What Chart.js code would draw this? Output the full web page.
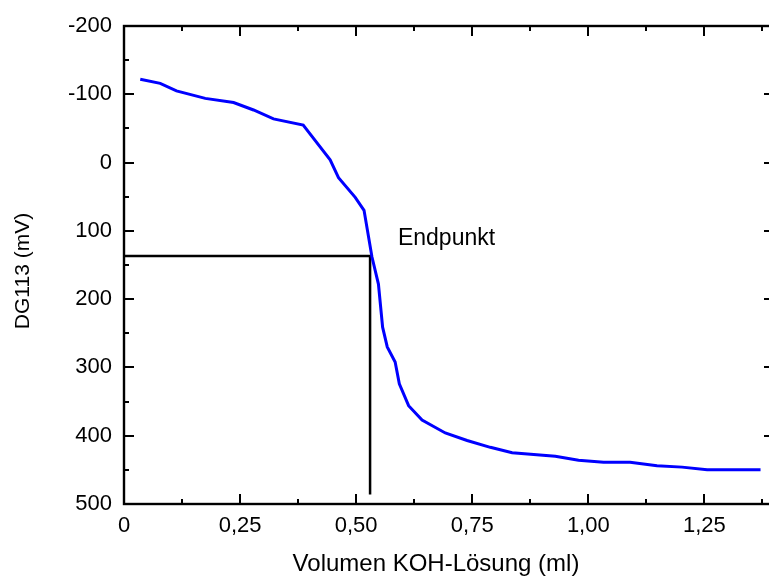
<!DOCTYPE html>
<html>
<head>
<meta charset="utf-8">
<script src="https://cdn.jsdelivr.net/npm/chart.js@4/dist/chart.umd.min.js"></script>
<style>
  html, body { margin: 0; padding: 0; background: #fff; overflow: hidden; }
  #wrap { width: 776px; height: 576px; position: relative; }
</style>
</head>
<body>
<div id="wrap"><canvas id="c" width="776" height="576"></canvas></div>
<script>
// Titration curve
const volumes = [0.035, 0.078, 0.113, 0.175, 0.236, 0.279, 0.322, 0.386, 0.444, 0.462, 0.498, 0.517, 0.534, 0.548, 0.557, 0.567, 0.584, 0.593, 0.613, 0.642, 0.692, 0.739, 0.789, 0.836, 0.929, 0.979, 1.033, 1.090, 1.148, 1.202, 1.256, 1.371];
const potentials = [-122, -116, -105, -94, -88, -77, -64, -55, -4, 22, 51, 70, 138, 178, 241, 270, 292, 324, 356, 377, 396, 407, 417, 425, 430, 436, 439, 439, 444, 446, 450, 450];

// End point marker
const endpointX = 0.530;
const endpointY = 137;
const endpointLineEndX = 0.536;
const endpointLineBottomY = 486;
const endpointLabel = 'Endpunkt';
const endpointLabelX = 0.59;
const endpointLabelY = 120;

// Axes
const xMajorTicks = [0, 0.25, 0.5, 0.75, 1.0, 1.25];
const xMinorTicks = [0.125, 0.375, 0.625, 0.875, 1.125, 1.375];
const yMajorTicks = [-200, -100, 0, 100, 200, 300, 400, 500];
const yMinorTicks = [-150, -50, 50, 150, 250, 350, 450];
const xTitle = 'Volumen KOH-Lösung (ml)';
const yTitle = 'DG113 (mV)';

const FONT = "'Liberation Sans', Arial, sans-serif";

function fmtX(v) {
  if (Math.abs(v) < 1e-9) return '0';
  return v.toFixed(2).replace('.', ',');
}

const framePlugin = {
  id: 'frameTicks',
  afterDatasetsDraw(chart) {
    const ctx = chart.ctx;
    const a = chart.chartArea;
    const xs = chart.scales.x, ys = chart.scales.y;
    ctx.save();
    ctx.strokeStyle = '#000';
    ctx.lineWidth = 2.4;
    ctx.strokeRect(a.left, a.top, a.right - a.left, a.bottom - a.top);
    ctx.beginPath();
    ctx.lineWidth = 2;
    const tick = (vals, len, isX) => {
      vals.forEach(v => {
        if (isX) {
          const p = Math.round(xs.getPixelForValue(v));
          ctx.moveTo(p, a.bottom); ctx.lineTo(p, a.bottom - len);
          ctx.moveTo(p, a.top); ctx.lineTo(p, a.top + len);
        } else {
          const p = Math.round(ys.getPixelForValue(v));
          ctx.moveTo(a.left, p); ctx.lineTo(a.left + len, p);
          ctx.moveTo(a.right, p); ctx.lineTo(a.right - len, p);
        }
      });
    };
    tick(xMajorTicks, 10, true);
    tick(xMinorTicks, 5, true);
    tick(yMajorTicks, 10, false);
    tick(yMinorTicks, 5, false);
    ctx.stroke();

    ctx.fillStyle = '#000';
    ctx.font = '23px ' + FONT;
    ctx.textAlign = 'left';
    ctx.textBaseline = 'alphabetic';
    ctx.fillText(endpointLabel, xs.getPixelForValue(endpointLabelX), ys.getPixelForValue(endpointLabelY));

    // axis titles
    ctx.font = '24px ' + FONT;
    ctx.textAlign = 'center';
    ctx.fillText(xTitle, 436, 571);
    ctx.save();
    ctx.translate(29, 271);
    ctx.rotate(-Math.PI / 2);
    ctx.font = '21px ' + FONT;
    ctx.fillText(yTitle, 0, 0);
    ctx.restore();
    ctx.restore();
  }
};

new Chart(document.getElementById('c'), {
  type: 'line',
  data: {
    datasets: [
      {
        data: volumes.map((v, i) => ({ x: v, y: potentials[i] })),
        borderColor: '#0000ff',
        borderWidth: 3,
        pointRadius: 0,
        tension: 0,
        fill: false
      },
      {
        data: [{ x: 0, y: endpointY }, { x: endpointLineEndX, y: endpointY }],
        borderColor: '#000',
        borderWidth: 2.5,
        pointRadius: 0,
        fill: false
      },
      {
        data: [{ x: endpointX, y: endpointY }, { x: endpointX, y: endpointLineBottomY }],
        borderColor: '#000',
        borderWidth: 2.5,
        pointRadius: 0,
        fill: false
      }
    ]
  },
  options: {
    responsive: false,
    animation: false,
    devicePixelRatio: 1,
    layout: { padding: { top: 26, right: 2, left: 0, bottom: 0 } },
    plugins: { legend: { display: false }, tooltip: { enabled: false } },
    scales: {
      x: {
        type: 'linear',
        min: 0,
        max: 1.4,
        grid: { display: false, drawTicks: false },
        border: { display: false },
        afterBuildTicks(scale) { scale.ticks = xMajorTicks.map(v => ({ value: v })); },
        afterFit(scale) { scale.height = 72; },
        ticks: {
          padding: 9,
          maxRotation: 0,
          autoSkip: false,
          color: '#000',
          font: { family: FONT, size: 22 },
          callback: v => fmtX(v)
        },
        title: { display: false }
      },
      y: {
        type: 'linear',
        reverse: true,
        min: -200,
        max: 500,
        grid: { display: false, drawTicks: false },
        border: { display: false },
        afterBuildTicks(scale) { scale.ticks = yMajorTicks.map(v => ({ value: v })); },
        afterFit(scale) { scale.width = 124; },
        ticks: {
          padding: 12,
          autoSkip: false,
          color: '#000',
          font: { family: FONT, size: 22 },
          callback: v => String(v)
        },
        title: { display: false }
      }
    }
  },
  plugins: [framePlugin]
});
</script>
</body>
</html>
